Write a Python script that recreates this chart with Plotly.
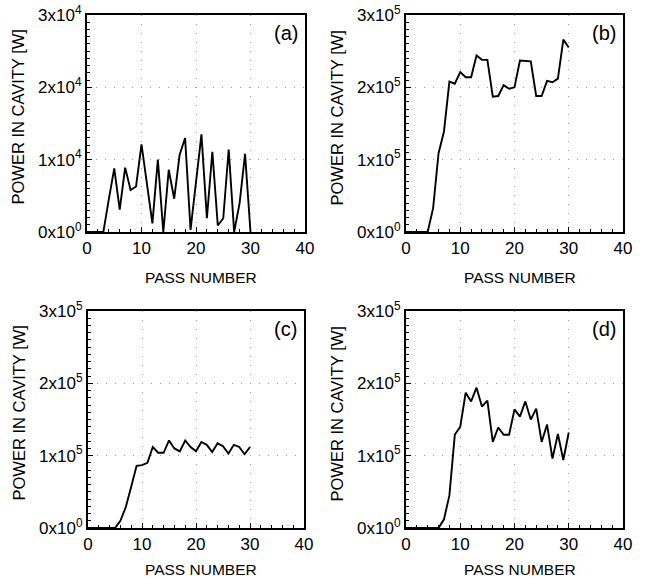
import plotly.graph_objects as go

passes = list(range(0, 31))

power_a = [0, 0, 0, 0, 4500, 8800, 3100, 8900, 5800, 6300, 12100, 6600, 1200, 10000, 0,
           8600, 4600, 10700, 13000, 300, 6900, 13500, 1900, 11100, 900, 1900, 11400, 0,
           4000, 10800, 0]
power_b = [0, 0, 0, 0, 0, 33000, 109000, 139000, 208000, 205000, 221000, 214000, 214000,
           244000, 238000, 238000, 187000, 188000, 203000, 198000, 200000, 237000, 236000,
           236000, 188000, 188000, 209000, 207000, 212000, 266000, 255000]
power_c = [0, 0, 0, 0, 0, 0, 10000, 29000, 57000, 86000, 87000, 90000, 112000, 104000,
           104000, 121000, 110000, 106000, 121000, 112000, 106000, 119000, 115000, 105000,
           117000, 113000, 103000, 115000, 112000, 102000, 112000]
power_d = [0, 0, 0, 0, 0, 0, 0, 12000, 45000, 129000, 140000, 187000, 175000, 194000,
           168000, 176000, 119000, 139000, 129000, 129000, 164000, 154000, 175000, 150000,
           165000, 119000, 143000, 96000, 130000, 94000, 132000]

panel_labels = ["(a)", "(b)", "(c)", "(d)"]
x_ticks = [0, 10, 20, 30, 40]
y_ticks_a = [0, 1e4, 2e4, 3e4]
y_text_a = ["0x10<sup>0</sup>", "1x10<sup>4</sup>", "2x10<sup>4</sup>", "3x10<sup>4</sup>"]
y_ticks_b = [0, 1e5, 2e5, 3e5]
y_text_b = ["0x10<sup>0</sup>", "1x10<sup>5</sup>", "2x10<sup>5</sup>", "3x10<sup>5</sup>"]
x_title = "PASS NUMBER"
y_title = "POWER IN CAVITY [W]"

W, H = 647, 579
# pixel boxes (left, right, top, bottom)
boxes = [(87, 305, 15, 232), (406, 623, 15, 232), (88, 304, 311, 528), (406, 623, 311, 528)]
xtitle_y = [277, 277, 569, 569]
series = [power_a, power_b, power_c, power_d]
yt = [(y_ticks_a, y_text_a, 3e4), (y_ticks_b, y_text_b, 3e5),
      (y_ticks_b, y_text_b, 3e5), (y_ticks_b, y_text_b, 3e5)]

FONT = "Liberation Sans, Arial, Helvetica, sans-serif"
fig = go.Figure()
annotations = []
for i, (box, ys, (tv, tt, ymax), lab) in enumerate(zip(boxes, series, yt, panel_labels)):
    n = "" if i == 0 else str(i + 1)
    l, r, t, b = box
    xd = [l / W, r / W]
    yd = [1 - b / H, 1 - t / H]
    fig.add_trace(go.Scatter(x=passes, y=ys, mode="lines",
                             line=dict(color="black", width=1.9),
                             xaxis="x" + n, yaxis="y" + n, showlegend=False,
                             cliponaxis=True))
    fig.layout["xaxis" + n] = dict(
        domain=xd, anchor="y" + n, range=[0, 40], tickvals=x_ticks, automargin=False,
        ticks="inside", ticklen=5, tickwidth=1, tickcolor="black",
        showline=True, linewidth=2, linecolor="black", mirror=True,
        showgrid=True, gridcolor="#a0a0a0", gridwidth=1, griddash="1px,8px",
        zeroline=False, tickfont=dict(size=17, color="black", family=FONT),
        minor=dict(dtick=2, ticks="inside", ticklen=3, tickcolor="black", showgrid=False),
    )
    fig.layout["yaxis" + n] = dict(
        domain=yd, anchor="x" + n, range=[0, ymax], tickvals=tv, ticktext=tt, automargin=False,
        ticks="inside", ticklen=5, tickwidth=1, tickcolor="black",
        showline=True, linewidth=2, linecolor="black", mirror=True,
        showgrid=True, gridcolor="#a0a0a0", gridwidth=1, griddash="1px,8px",
        zeroline=False, tickfont=dict(size=17, color="black", family=FONT),
        minor=dict(dtick=ymax / 30, ticks="inside", ticklen=3, tickcolor="black", showgrid=False),
    )
    annotations.append(dict(text=lab, xref="paper", yref="paper",
                            x=(r - 5) / W, y=1 - (t + 18) / H, xanchor="right", yanchor="middle",
                            showarrow=False, font=dict(size=20, color="black", family=FONT)))
    annotations.append(dict(text=x_title, xref="paper", yref="paper",
                            x=((l + r) / 2 + 5) / W, y=1 - xtitle_y[i] / H, xanchor="center", yanchor="middle",
                            showarrow=False, font=dict(size=15.5, color="black", family=FONT)))
    annotations.append(dict(text=y_title, xref="paper", yref="paper", textangle=-90,
                            x=(l - 69) / W, y=1 - ((t + b) / 2 - 6) / H, xanchor="center", yanchor="middle",
                            showarrow=False, font=dict(size=16.5, color="black", family=FONT)))

fig.update_layout(width=W, height=H, margin=dict(l=0, r=0, t=0, b=0, autoexpand=False),
                  paper_bgcolor="white", plot_bgcolor="white", hovermode=False,
                  annotations=annotations, font=dict(family=FONT, color="black"))
fig.write_html("out.html", config={"displayModeBar": False, "staticPlot": True},
               post_script="document.body.style.margin='0';document.body.style.overflow='hidden';")
